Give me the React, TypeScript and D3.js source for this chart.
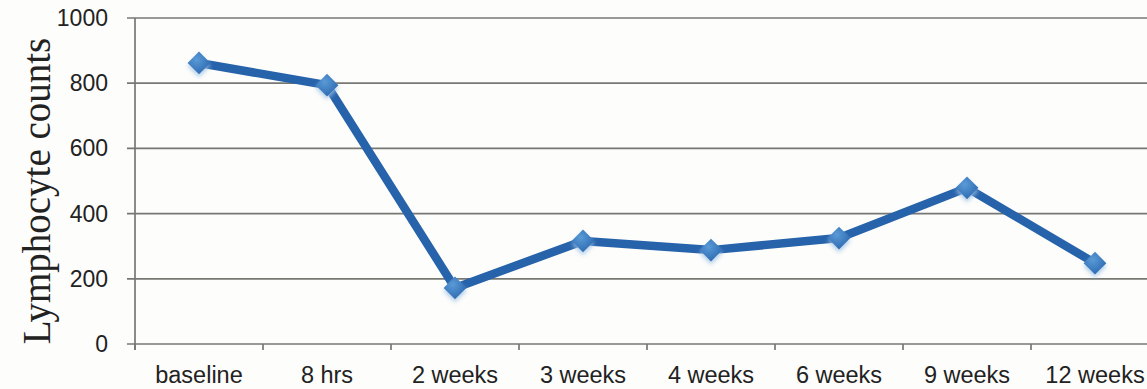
import React from "react";
import * as d3 from "d3";

// Time points after treatment and the lymphocyte counts measured at each
const timePoints = ["baseline", "8 hrs", "2 weeks", "3 weeks", "4 weeks", "6 weeks", "9 weeks", "12 weeks"];
const lymphocyteCounts = [862, 794, 172, 316, 288, 325, 479, 248];
const yTicks = [0, 200, 400, 600, 800, 1000];

const WIDTH = 1147;
const HEIGHT = 389;
const LEFT = 135;
const TOP = 18;
const BOTTOM = 344;
const BAND = 128;

export default function App() {
  const x = d3
    .scaleBand<string>()
    .domain(timePoints)
    .range([LEFT, LEFT + BAND * timePoints.length])
    .paddingInner(0)
    .paddingOuter(0);
  const y = d3.scaleLinear().domain([0, 1000]).range([BOTTOM, TOP]);

  const cx = (c: string) => (x(c) as number) + x.bandwidth() / 2;
  const points = timePoints.map((c, i) => [cx(c), y(lymphocyteCounts[i])] as [number, number]);
  const linePath = d3.line()(points) as string;

  const boundaries = timePoints.map((c) => x(c) as number).concat([LEFT + BAND * timePoints.length]);
  const diamond = d3.symbol().type(d3.symbolDiamond2).size(330)() as string;

  return (
    <svg
      width={WIDTH}
      height={HEIGHT}
      style={{ position: "absolute", left: 0, top: 0, background: "#fdfdfb" }}
    >
      <defs>
        <radialGradient id="markerFill" cx="40%" cy="35%" r="70%">
          <stop offset="0%" stopColor="#5a9ad6" />
          <stop offset="100%" stopColor="#2a68b0" />
        </radialGradient>
        <filter id="markerGlow" x="-50%" y="-50%" width="200%" height="200%">
          <feGaussianBlur in="SourceAlpha" stdDeviation="2" />
          <feOffset dx="0" dy="3" result="b" />
          <feFlood floodColor="#9cc2e6" floodOpacity="0.8" />
          <feComposite in2="b" operator="in" />
          <feMerge>
            <feMergeNode />
            <feMergeNode in="SourceGraphic" />
          </feMerge>
        </filter>
      </defs>

      {/* horizontal gridlines with short ticks left of the axis */}
      {yTicks.map((t) => (
        <g key={t}>
          <line x1={LEFT - 8} x2={WIDTH} y1={y(t)} y2={y(t)} stroke="#777773" strokeWidth={1.7} />
          <text
            x={LEFT - 27}
            y={y(t)}
            dy="0.35em"
            textAnchor="end"
            fontFamily="'Liberation Sans', Arial, sans-serif"
            fontSize={23}
            fill="#222"
          >
            {t}
          </text>
        </g>
      ))}

      {/* vertical axis line */}
      <line x1={LEFT} x2={LEFT} y1={TOP} y2={BOTTOM + 6} stroke="#777773" strokeWidth={1.7} />

      {/* category boundary ticks */}
      {boundaries.map((b, i) => (
        <line key={i} x1={b} x2={b} y1={BOTTOM} y2={BOTTOM + 6} stroke="#777773" strokeWidth={1.7} />
      ))}

      {/* category labels */}
      {timePoints.map((c) => (
        <text
          key={c}
          x={cx(c)}
          y={383}
          textAnchor="middle"
          fontFamily="'Liberation Sans', Arial, sans-serif"
          fontSize={23.5}
          fill="#222"
        >
          {c}
        </text>
      ))}

      {/* y axis title */}
      <text
        transform={`translate(50, ${(TOP + BOTTOM) / 2 + 10}) rotate(-90)`}
        textAnchor="middle"
        fontFamily="'Liberation Serif', 'Times New Roman', serif"
        fontSize={39}
        fill="#222"
      >
        Lymphocyte counts
      </text>

      {/* series line */}
      <path d={linePath} fill="none" stroke="#2663ab" strokeWidth={8.5} strokeLinejoin="round" />

      {/* diamond markers */}
      {points.map(([px, py], i) => (
        <path
          key={i}
          d={diamond}
          transform={`translate(${px}, ${py})`}
          fill="url(#markerFill)"
          filter="url(#markerGlow)"
        />
      ))}
    </svg>
  );
}
